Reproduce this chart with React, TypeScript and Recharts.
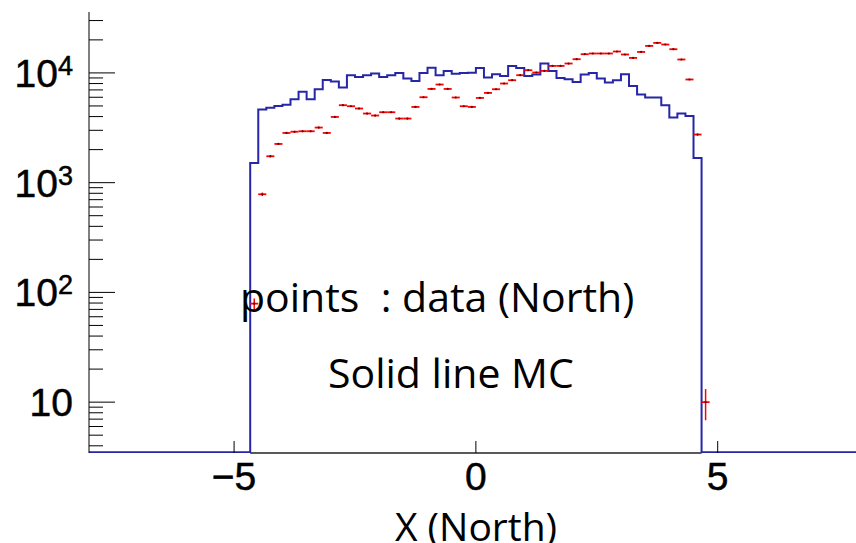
import { ComposedChart, Line, Scatter, ErrorBar, XAxis, YAxis, ReferenceLine } from 'recharts';

// MC histogram, bins of width 1/6 starting at x = -14/3
const mcStart = -14 / 3;
const binWidth = 1 / 6;
const mcCounts = [
  1513, 4637, 4816, 4992, 5117, 5756, 6744, 5756, 7100, 8630, 8350, 7360, 9530, 9200,
  9530, 9870, 9200, 9530, 10000, 8890, 8450, 10000, 11150, 9530, 10430, 9830, 10000, 10040,
  11100, 9080, 9730, 9390, 11580, 11100, 9390, 9670, 12180, 10430, 9000, 8770, 8280, 9670,
  10000, 8890, 8180, 8580, 9730, 7610, 6350, 5970, 5970, 5080, 3920, 4265, 4055, 1680,
];

// data (North), same binning
const dataCounts = [
  79, 784, 1740, 2253, 2838, 2911, 2941, 2941, 3177, 2838, 3971, 5079, 4970, 4738, 4265,
  4090, 4383, 4383, 3839, 3839, 4898, 6004, 7146, 7839, 7146, 5969, 4970, 4898, 5916, 6574,
  7100, 8005, 8580, 9530, 10583, 10084, 10430, 11584, 11584, 12177, 13334, 14803, 15030,
  15030, 15030, 15670, 14720, 13700, 15530, 17620, 18770, 18150, 16440, 13250, 8710, 2745, 10,
];

const xTicks = [-5, 0, 5];
const xTickLabels = ['\u22125', '0', '5'];
const yMajorTicks = [10, 100, 1000, 10000];
const yTicks = [
  4, 5, 6, 7, 8, 9, 10, 20, 30, 40, 50, 60, 70, 80, 90,
  100, 200, 300, 400, 500, 600, 700, 800, 900,
  1000, 2000, 3000, 4000, 5000, 6000, 7000, 8000, 9000,
  10000, 20000, 30000,
];

const xDomain: [number, number] = [-8, 7.86];
const yDomain: [number, number] = [3.44, 35900];
// empty MC bins sit on the bottom of the frame
const emptyLevel = 3.5;

const mcLine = [
  { x: -8, y: emptyLevel },
  ...mcCounts.map((c, i) => ({ x: mcStart + i * binWidth, y: c })),
  { x: mcStart + mcCounts.length * binWidth, y: emptyLevel },
  { x: 8, y: emptyLevel },
];

const dataPoints = dataCounts.map((c, i) => ({
  x: mcStart + (i + 0.5) * binWidth,
  y: c,
  ex: binWidth / 2,
  ey: Math.sqrt(c),
}));

const axisFont = '"Liberation Sans", Arial, sans-serif';
const textFont = '"Open Sans", "Noto Sans", sans-serif';

const YTick = (props: any) => {
  const { x, y, payload } = props;
  const v = payload.value;
  const majorIdx = yMajorTicks.indexOf(v);
  const len = majorIdx >= 0 ? 26 : 14;
  return (
    <g>
      <line x1={x} y1={y} x2={x + len} y2={y} stroke="#000" strokeWidth={1} />
      {majorIdx >= 0 && (
        <text
          x={x - 16}
          y={y}
          dy={14}
          textAnchor="end"
          fontFamily={axisFont}
          fontSize={39}
          fill="#000"
          stroke="#000"
          strokeWidth={0.5}
        >
          10
          {majorIdx > 0 && (
            <tspan fontSize={27} dy={-12}>
              {majorIdx + 1}
            </tspan>
          )}
        </text>
      )}
    </g>
  );
};

const XTick = (props: any) => {
  const { x, y, payload } = props;
  const label = xTickLabels[xTicks.indexOf(payload.value)];
  return (
    <g>
      <line x1={x} y1={y} x2={x} y2={y - 12} stroke="#000" strokeWidth={1} />
      <text
        x={x}
        y={y + 37}
        textAnchor="middle"
        fontFamily={axisFont}
        fontSize={39}
        fill="#000"
        stroke="#000"
        strokeWidth={0.5}
      >
        {label}
      </text>
    </g>
  );
};

const Marker = (props: any) => {
  const { cx, cy } = props;
  return <circle cx={cx} cy={cy} r={1.1} fill="#700" />;
};

export default function App() {
  return (
    <div
      style={{
        position: 'absolute',
        left: 0,
        top: 0,
        width: 856,
        height: 543,
        overflow: 'hidden',
        background: '#fff',
      }}
    >
      <ComposedChart width={856} height={543} margin={{ top: 12, right: 0, bottom: 0, left: 0 }}>
        <XAxis
          dataKey="x"
          type="number"
          domain={xDomain}
          allowDataOverflow
          ticks={xTicks}
          interval={0}
          height={90}
          tickSize={0}
          tickMargin={0}
          tickLine={false}
          tick={<XTick />}
          axisLine={false}
        />
        <XAxis
          xAxisId="top"
          orientation="top"
          type="number"
          domain={xDomain}
          allowDataOverflow
          height={0}
          tick={false}
          tickLine={false}
          axisLine={{ stroke: '#000', strokeWidth: 1 }}
        />
        <YAxis
          dataKey="y"
          scale="log"
          domain={yDomain}
          allowDataOverflow
          ticks={yTicks}
          interval={0}
          width={89}
          tickSize={0}
          tickMargin={0}
          tickLine={false}
          tick={<YTick />}
          axisLine={{ stroke: '#000', strokeWidth: 1 }}
        />
        <ReferenceLine
          segment={[
            { x: mcStart, y: yDomain[0] },
            { x: mcStart + mcCounts.length * binWidth, y: yDomain[0] },
          ]}
          stroke="#222"
          strokeWidth={1.5}
        />
        <Line
          data={mcLine}
          dataKey="y"
          type="stepAfter"
          stroke="#2626a6"
          strokeWidth={2}
          dot={false}
          activeDot={false}
          isAnimationActive={false}
        />
        <Scatter data={dataPoints} dataKey="y" fill="#f00" shape={<Marker />} isAnimationActive={false}>
          <ErrorBar dataKey="ex" direction="x" width={0} stroke="#f00" strokeWidth={1.8} isAnimationActive={false} />
          <ErrorBar dataKey="ey" direction="y" width={0} stroke="#f00" strokeWidth={1.5} isAnimationActive={false} />
        </Scatter>
      </ComposedChart>
      <svg
        width={856}
        height={543}
        style={{ position: 'absolute', left: 0, top: 0, pointerEvents: 'none' }}
      >
        <text x={240} y={312} fontFamily={textFont} fontSize={41} fill="#000" style={{ whiteSpace: 'pre' }}>
          {'points  : data (North)'}
        </text>
        <text x={328} y={388} fontFamily={textFont} fontSize={41} fill="#000">
          Solid line MC
        </text>
        <text x={476} y={541} textAnchor="middle" fontFamily={textFont} fontSize={39} fill="#000">
          X (North)
        </text>
      </svg>
    </div>
  );
}
